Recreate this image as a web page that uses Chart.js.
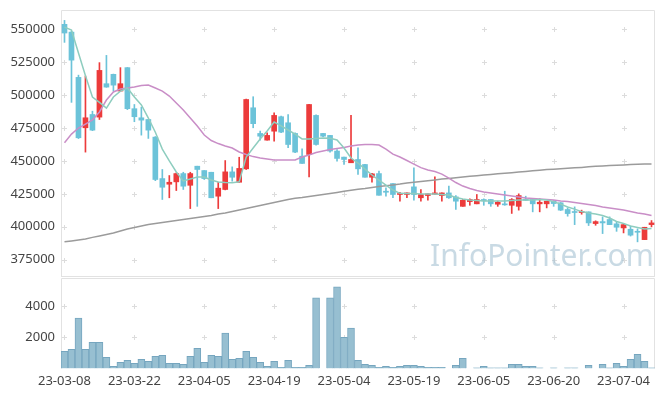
<!DOCTYPE html>
<html><head><meta charset="utf-8">
<script src="https://cdn.jsdelivr.net/npm/chart.js@4.4.0/dist/chart.umd.min.js"></script>
<style>
html,body{margin:0;padding:0;background:#fff;}
#wrap{position:relative;width:665px;height:396px;overflow:hidden;}
#pc{position:absolute;left:0;top:0;}
#vc{position:absolute;left:0;top:277px;}
#wm{position:absolute;left:430px;top:234px;font:30px 'Noto Sans',sans-serif;color:rgba(165,193,210,0.6);white-space:nowrap;pointer-events:none;}
</style></head><body>
<div id="wrap">
<canvas id="pc" width="665" height="277" style="width:665px;height:277px"></canvas>
<canvas id="vc" width="665" height="119" style="width:665px;height:119px"></canvas>
<div id="wm">InfoPointer.com</div>
</div>
<script>
const dates = ["23-03-08","23-03-09","23-03-10","23-03-13","23-03-14","23-03-15","23-03-16","23-03-17","23-03-20","23-03-21","23-03-22",
"23-03-23","23-03-24","23-03-27","23-03-28","23-03-29","23-03-30","23-03-31","23-04-03","23-04-04","23-04-05",
"23-04-06","23-04-07","23-04-10","23-04-11","23-04-12","23-04-13","23-04-14","23-04-17","23-04-18","23-04-19",
"23-04-20","23-04-21","23-04-24","23-04-25","23-04-26","23-04-27","23-04-28","23-05-02","23-05-03","23-05-04",
"23-05-08","23-05-09","23-05-10","23-05-11","23-05-12","23-05-15","23-05-16","23-05-17","23-05-18","23-05-19",
"23-05-22","23-05-23","23-05-24","23-05-25","23-05-26","23-05-30","23-05-31","23-06-01","23-06-02","23-06-05",
"23-06-07","23-06-08","23-06-09","23-06-12","23-06-13","23-06-14","23-06-15","23-06-16","23-06-19","23-06-20",
"23-06-21","23-06-22","23-06-23","23-06-26","23-06-27","23-06-28","23-06-29","23-06-30","23-07-03","23-07-04",
"23-07-05","23-07-06","23-07-07","23-07-10"];

const openP = [553800,547900,513500,475200,485300,483300,508700,515800,503100,520900,
489700,482800,481500,468100,436600,432300,434100,440400,431500,446000,
442700,441400,423200,428300,441700,433800,444000,490400,470900,465800,
472600,483600,479000,470900,453600,454900,484600,470900,469400,457500,
452900,448600,451100,447300,437600,440400,427000,432800,424500,424500,
430300,422000,423700,424700,423700,425700,422700,415500,419100,417400,
420700,420700,417100,417400,416300,415500,420700,420700,417400,417400,
419400,418200,413100,411500,410800,411300,402400,403900,405500,402200,
399100,398100,396500,390200,401600];
const highP = [556800,548500,515200,514500,487800,524700,530200,516000,520900,521000,
492900,490900,481500,468500,443500,438900,440900,441400,441400,446000,
442700,441400,433800,450300,445500,452800,497000,498800,472600,471400,
486600,484000,485300,471400,459200,493000,485000,471000,469400,458700,
453000,484600,460000,447500,440500,442200,429600,432800,426200,425700,
444800,428300,425000,437900,425700,430800,423700,420700,421200,424500,
421200,420700,419400,427000,421400,425000,423200,420700,421200,419400,
419900,418400,414300,415100,412600,411300,404500,407500,407500,403400,
402200,400400,398400,399600,404700];
const lowP = [540100,494500,467000,456700,473000,481500,506000,503100,503000,489000,
479800,469600,467100,435000,420700,422000,427500,428300,413800,415500,
435900,422000,413800,428000,434600,433800,443500,475200,465800,465800,
465000,471500,460000,456200,448100,437900,462000,468500,456700,449800,
447300,448600,439700,437600,433800,423900,423200,422000,419400,422000,
420100,419400,420100,424700,419400,421500,413100,415500,416300,417400,
416300,415500,415500,416300,410100,412600,419900,411300,411300,414300,
415500,412300,408000,401600,409500,400900,401100,394800,401600,396500,
395300,392900,388500,390200,399900];
const closeP = [547200,526600,467600,482800,473400,518800,506100,507600,508700,489700,
483600,481000,473400,435900,430000,433800,440400,430800,440400,443500,
436600,422000,429300,441700,437600,444300,496700,478300,468800,469400,
484600,471900,462500,456700,448100,492900,462500,468800,457500,451900,
451100,451100,444000,437600,440200,423900,426200,424500,425200,425700,
424500,424500,425000,425700,425700,422000,419400,420100,420700,420700,
419700,417400,418600,416600,420700,423700,420100,417400,418600,419400,
417600,412600,410000,410800,411500,402900,403900,402900,401600,399600,
401600,393600,395800,399600,402900];
const volume = [1100,1230,3230,1230,1680,1680,710,130,390,520,
320,580,450,770,840,320,320,260,770,1290,
390,840,770,2260,580,650,1100,710,390,130,
450,65,520,65,65,190,4520,0,4520,5230,
2000,2580,520,260,190,65,130,65,130,190,
190,130,65,65,65,0,190,650,0,40,
130,40,40,40,260,260,130,130,40,0,
40,0,40,40,0,190,0,260,40,320,
130,580,900,450,40];
const ma5 = [551700,549500,532000,514700,498600,494500,490200,498600,503100,505400,
498600,492500,482600,471800,459000,450000,441600,434800,436300,437800,
437800,435500,434000,433600,433400,434200,453000,459800,466700,472700,
479600,476600,473500,470400,466700,466700,467000,467400,467200,465900,
459800,452200,448400,443800,439300,435500,431700,427900,425400,425200,
425200,424800,424800,424800,424500,424100,422200,421000,420300,419900,
419500,419500,419500,419500,419900,420300,420300,420300,420700,420300,
419100,417200,415000,413400,411500,410400,409600,408500,406600,404000,
402400,400500,399400,398200,398600];
const ma20 = [463800,470400,475000,478000,481100,487200,496300,502400,504600,505400,
506200,507300,507700,505400,503100,499300,494000,488700,482600,476500,
469700,465500,463200,461300,459800,456800,454900,453300,452200,451400,
450700,450700,450700,450700,453000,454500,456400,457500,458700,459400,
460200,461300,462100,462500,462500,462100,459000,455200,453000,450300,
447600,444900,443100,441900,440000,437000,433600,430900,429000,427500,
426400,425600,424800,424100,423300,422600,421800,421400,421000,420700,
420300,419500,419100,418400,417600,416900,416100,415000,414200,413400,
412700,411500,410400,409600,408500];
const ma60 = [388500,389200,390000,390700,391900,393000,394100,395200,396800,398300,
399400,400500,401700,402400,403200,403900,404700,405500,406200,407000,
407700,408500,409600,410400,411500,412700,413800,415000,416100,417300,
418400,419500,420700,421600,422200,423000,423700,424500,425200,426000,
426900,427700,428400,429000,429800,430500,431200,431800,432400,433200,
433800,434400,435000,435600,436200,436700,437200,437800,438300,438800,
439300,439700,440200,440600,441100,441600,442000,442500,443000,443400,
443700,444000,444400,444800,445100,445500,445900,446200,446500,446800,
447000,447300,447400,447600,447700];
const priceTicks = [375000,400000,425000,450000,475000,500000,525000,550000];
const volTicks = [2000,4000];

const UP = '#ec3b3b', DOWN = '#6cc3d9';
const candleColors = openP.map((o,i)=> closeP[i] >= o ? UP : DOWN);
const FONT = {family:"'Noto Sans', sans-serif", size:13};

function decor(yTicks, bottomBorder){
  return {
    id:'decor',
    beforeDatasetsDraw(chart){
      const {ctx, chartArea:a, scales:{x, y}} = chart;
      ctx.save();
      ctx.lineWidth = 1;
      ctx.strokeStyle = '#dcdcdc';
      for (let i = 0; i < dates.length; i += 10){
        const cx = Math.round(x.getPixelForValue(i)) + 0.5;
        yTicks.forEach(v=>{
          const cy = Math.round(y.getPixelForValue(v)) + 0.5;
          ctx.beginPath();
          ctx.moveTo(cx-2.5, cy); ctx.lineTo(cx+2.5, cy);
          ctx.moveTo(cx, cy-2.5); ctx.lineTo(cx, cy+2.5);
          ctx.stroke();
        });
      }
      ctx.strokeStyle = '#e2e2e2';
      const l = Math.round(a.left)+0.5, r = Math.round(a.right)-0.5, t = Math.round(a.top)+0.5, b = Math.round(a.bottom)-0.5;
      ctx.beginPath();
      ctx.moveTo(l, b+1); ctx.lineTo(l, t); ctx.lineTo(r, t); ctx.lineTo(r, b+1);
      if (bottomBorder){ ctx.moveTo(l, b); ctx.lineTo(r, b); }
      ctx.stroke();
      ctx.restore();
    }
  };
}

function fitY(s){ s.width = 61; s.paddingTop = 0; s.paddingBottom = 0; }

new Chart(document.getElementById('pc'), {
  type:'bar',
  data:{
    labels: dates,
    datasets:[
      {type:'line', data: ma5, borderColor:'#8ecdbf', borderWidth:1.5, pointRadius:0, tension:0},
      {type:'line', data: ma20, borderColor:'#c98ec7', borderWidth:1.5, pointRadius:0, tension:0},
      {type:'line', data: ma60, borderColor:'#9b9b9b', borderWidth:1.5, pointRadius:0, tension:0},
      {data: openP.map((o,i)=>[o, closeP[i]]), backgroundColor: candleColors, barThickness:5, minBarLength:1, grouped:false},
      {data: lowP.map((l,i)=>[l, highP[i]]), backgroundColor: candleColors, barThickness:1, grouped:false}
    ]
  },
  options:{
    responsive:false, animation:false,
    layout:{padding:{top:10, right:10, bottom:0, left:0}},
    plugins:{legend:{display:false}, tooltip:{enabled:false}},
    scales:{
      x:{display:false},
      y:{
        min:361800, max:564700,
        grid:{display:false, drawTicks:false}, border:{display:false},
        afterBuildTicks(s){ s.ticks = priceTicks.map(v=>({value:v})); },
        afterFit: fitY,
        ticks:{font:FONT, color:'#444', padding:6, callback:(v)=>String(v)}
      }
    }
  },
  plugins:[decor(priceTicks, true)]
});

new Chart(document.getElementById('vc'), {
  type:'bar',
  data:{
    labels: dates,
    datasets:[
      {data: volume, backgroundColor:'#97bfd1', borderColor:'#76a6bf', borderWidth:1, barPercentage:1, categoryPercentage:1}
    ]
  },
  options:{
    responsive:false, animation:false,
    layout:{padding:{top:1, right:10, bottom:2, left:0}},
    plugins:{legend:{display:false}, tooltip:{enabled:false}},
    scales:{
      x:{
        grid:{display:false, drawTicks:false}, border:{display:false},
        ticks:{font:FONT, color:'#444', padding:5, autoSkip:false, maxRotation:0,
          callback(v, i){ return i % 10 === 0 ? dates[i] : null; }}
      },
      y:{
        min:0, max:5800,
        grid:{display:false, drawTicks:false}, border:{display:false},
        afterBuildTicks(s){ s.ticks = volTicks.map(v=>({value:v})); },
        afterFit: fitY,
        ticks:{font:FONT, color:'#444', padding:6, callback:(v)=>String(v)}
      }
    }
  },
  plugins:[decor(volTicks, false)]
});
</script>
</body></html>
